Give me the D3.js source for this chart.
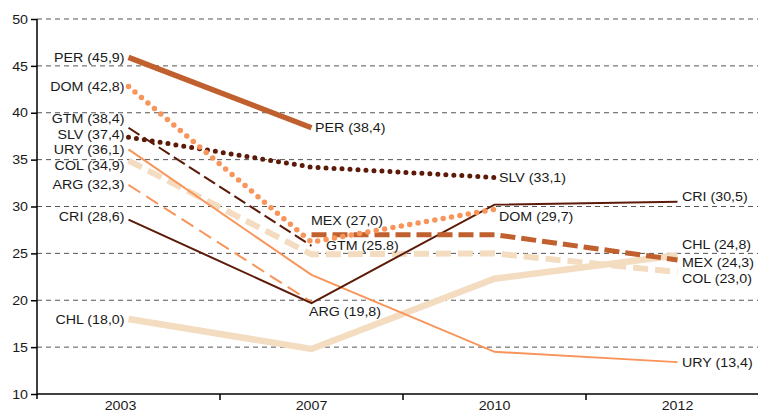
<!DOCTYPE html>
<html><head><meta charset="utf-8">
<script src="https://cdn.jsdelivr.net/npm/d3@7"></script>
<style>body{margin:0;background:#fff}svg{display:block}text{font-family:"Liberation Sans",Arial,sans-serif;fill:#1a1a1a}</style>
</head><body><svg id="c" width="758" height="413"></svg>
<script>
const years = ["2003","2007","2010","2012"];
const yTicks = [10,15,20,25,30,35,40,45,50];
const PER = [45.9, 38.4, null, null];
const DOM = [42.8, 26.2, 29.7, null];
const GTM = [38.4, 25.8, null, null];
const SLV = [37.4, 34.2, 33.1, null];
const URY = [36.1, 22.7, 14.5, 13.4];
const COL = [34.9, 24.9, 25.0, 23.0];
const ARG = [32.3, 19.8, null, null];
const CRI = [28.6, 19.7, 30.2, 30.5];
const CHL = [18.0, 14.8, 22.3, 24.8];
const MEX = [null, 27.0, 27.0, 24.3];

// styles (drawing order bottom to top)
const series = [
  {name:"CHL", v:CHL, color:"#f3dcc0", w:6.5, dash:null},
  {name:"COL", v:COL, color:"#f3dcc0", w:6, dash:"15,7"},
  {name:"URY", v:URY, color:"#f7955a", w:2, dash:null},
  {name:"ARG", v:ARG, color:"#f7955a", w:2, dash:"14,7"},
  {name:"CRI", v:CRI, color:"#5c1a08", w:2, dash:null},
  {name:"MEX", v:MEX, color:"#c0602e", w:5, dash:"15,6"},
  {name:"GTM", v:GTM, color:"#5c1a08", w:2, dash:"13,5"},
  {name:"SLV", v:SLV, color:"#5c1a08", w:5, dash:"0,8", round:true},
  {name:"DOM", v:DOM, color:"#f7955a", w:5.5, dash:"0,8.5", round:true},
  {name:"PER", v:PER, color:"#c0602e", w:5.5, dash:null}
];
// label texts and placements: [series, yearIndex, text, anchor, dx, dy]
const labels = [
  ["PER",0,"PER (45,9)","end",-4,0],
  ["DOM",0,"DOM (42,8)","end",-4,0],
  ["GTM",0,"GTM (38,4)","end",-4,-9.5],
  ["SLV",0,"SLV (37,4)","end",-4,-3],
  ["URY",0,"URY (36,1)","end",-4,0],
  ["COL",0,"COL (34,9)","end",-4,5],
  ["ARG",0,"ARG (32,3)","end",-4,-1],
  ["CRI",0,"CRI (28,6)","end",-4,-3.5],
  ["CHL",0,"CHL (18,0)","end",-4,0],
  ["PER",1,"PER (38,4)","start",3.5,0],
  ["MEX",1,"MEX (27,0)","start",-0.5,-14],
  ["GTM",1,"GTM (25.8)","start",14.5,0],
  ["ARG",1,"ARG (19,8)","start",-2.5,9.5],
  ["SLV",2,"SLV (33,1)","start",4.5,0],
  ["DOM",2,"DOM (29,7)","start",4.5,7],
  ["CRI",3,"CRI (30,5)","start",4.5,-5],
  ["CHL",3,"CHL (24,8)","start",4.5,-11],
  ["MEX",3,"MEX (24,3)","start",4.5,2],
  ["COL",3,"COL (23,0)","start",4.5,6],
  ["URY",3,"URY (13,4)","start",4.5,0]
];

const FS = "13.2px", SX = 1.08;
const svg = d3.select("#c");
const x = d3.scaleBand().domain(years).range([37, 769]).padding(0);
const y = d3.scaleLinear().domain([10, 50]).range([394, 19]);
const cx = yr => x(yr) + x.bandwidth()/2;

// grid
svg.append("g").selectAll("line").data(yTicks.filter(t=>t>10)).join("line")
  .attr("x1",37).attr("x2",758).attr("y1",d=>y(d)).attr("y2",d=>y(d))
  .attr("stroke","#555").attr("stroke-width",1).attr("stroke-dasharray","5,4");

// y axis
const ya = svg.append("g").attr("transform","translate(37,0)")
  .call(d3.axisLeft(y).tickValues(yTicks).tickSize(6).tickPadding(3).tickFormat(d3.format("d")));
ya.select(".domain").attr("stroke","#000").attr("stroke-width",1.5).attr("d","M0,19V399");
ya.selectAll(".tick line").attr("stroke","#000").attr("stroke-width",1.5);
ya.selectAll("text").attr("font-size",FS).attr("font-family","Liberation Sans, Arial, sans-serif").attr("fill","#1a1a1a")
  .attr("x",-9/SX).attr("transform",`scale(${SX},1)`);

// x axis
const xa = svg.append("g").attr("transform","translate(0,394)")
  .call(d3.axisBottom(x).tickSize(0).tickPadding(7));
xa.select(".domain").attr("stroke","#000").attr("stroke-width",1.5).attr("d","M37,0H758");
xa.selectAll("text").attr("font-size",FS).attr("font-family","Liberation Sans, Arial, sans-serif").attr("fill","#1a1a1a")
  .attr("x",(d,i)=>i===0?-8/SX:0).attr("transform",`scale(${SX},1)`);
svg.append("g").selectAll("line").data(years.slice(1)).join("line")
  .attr("x1",d=>x(d)).attr("x2",d=>x(d)).attr("y1",394).attr("y2",400)
  .attr("stroke","#000").attr("stroke-width",1.5);

// lines
const line = d3.line().defined(d=>d.v!=null).x(d=>cx(d.yr)).y(d=>y(d.v));
series.forEach(s=>{
  const pts = years.map((yr,i)=>({yr, v:s.v[i]}));
  const p = svg.append("path").datum(pts).attr("d",line)
    .attr("fill","none").attr("stroke",s.color).attr("stroke-width",s.w)
    .attr("stroke-linejoin","miter");
  if (s.dash) p.attr("stroke-dasharray",s.dash);
  if (s.round) p.attr("stroke-linecap","round");
});

// labels
const byName = Object.fromEntries(series.map(s=>[s.name,s]));
svg.append("g").selectAll("text").data(labels).join("text")
  .attr("transform",d=>`translate(${cx(years[d[1]])+d[4]},${y(byName[d[0]].v[d[1]])+d[5]}) scale(${SX},1)`)
  .attr("dy","0.35em")
  .attr("text-anchor",d=>d[3])
  .attr("font-size",FS)
  .text(d=>d[2]);
</script></body></html>
